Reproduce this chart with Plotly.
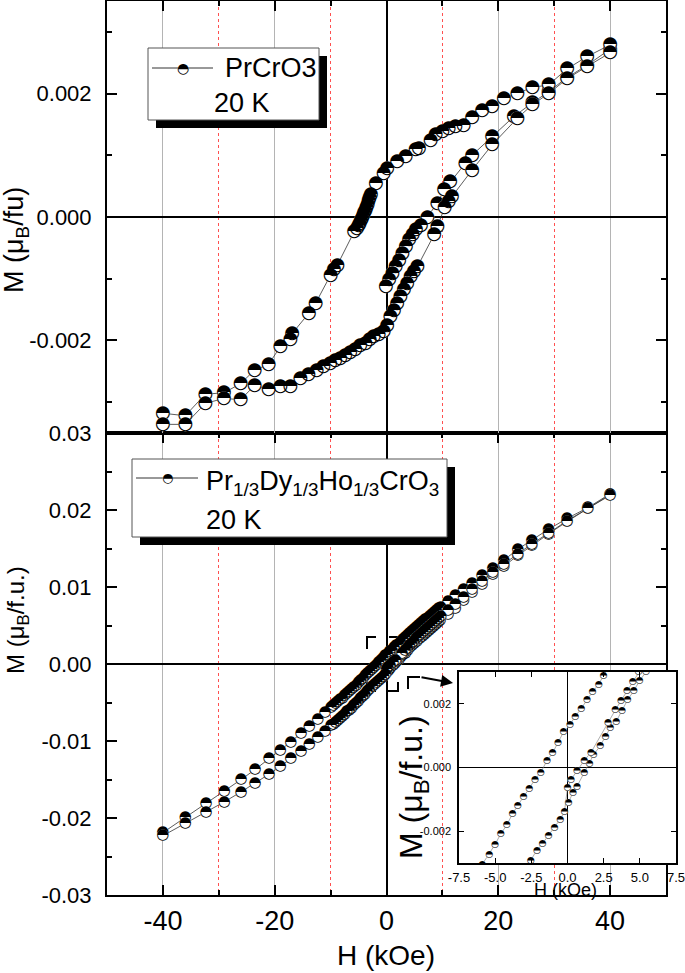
import plotly.graph_objects as go

# ---------------- data: PrCrO3, 20 K (top panel) ----------------
top_desc_H = [40.0, 35.9, 32.3, 29.0, 26.1, 23.4, 21.0, 18.9, 17.1, 15.3,
              13.8, 12.3, 11.1, 10.0, 8.8, 7.9, 5.8, 5.2, 3.4, 1.9,
              0.1, -0.5, -1.9, -2.8, -3.0, -3.2, -3.4, -3.6, -3.8, -4.0,
              -4.2, -4.4, -4.6, -4.8, -5.0, -5.3, -5.8, -8.8, -9.4, -10.0,
              -12.7, -13.9, -16.9, -17.2, -19.0, -21.1, -23.6, -26.1, -29.1, -32.4,
              -36.0, -40.0]
top_desc_M = [0.00279, 0.00260, 0.00240, 0.00214, 0.00210, 0.00200, 0.00192, 0.00179, 0.00172, 0.00161,
              0.00149, 0.00147, 0.00144, 0.00138, 0.00133, 0.00124, 0.00111, 0.00109, 0.00098, 0.00090,
              0.00079, 0.00071, 0.00055, 0.00036, 0.00031, 0.00026, 0.00021, 0.00016, 0.00011, 0.00007,
              0.00003, -0.00002, -0.00006, -0.00010, -0.00014, -0.00018, -0.00024, -0.00078, -0.00085, -0.00094,
              -0.00140, -0.00156, -0.00189, -0.00199, -0.00210, -0.00239, -0.00248, -0.00270, -0.00285, -0.00287,
              -0.00322, -0.00318]

top_asc_H = [-40.0, -36.0, -32.4, -29.1, -26.1, -23.6, -21.1, -19.0, -17.2, -15.4,
             -14.0, -12.5, -11.3, -10.1, -9.2, -8.3, -7.4, -6.5, -5.6, -4.7,
             -3.8, -3.0, -2.3, -1.4, -0.5, 0.1, 0.7, 1.3, 1.9, 2.5,
             3.1, 3.7, 4.3, 4.9, 5.5, 8.5, 9.1, 10.4, 11.1, 11.7,
             15.3, 18.9, 23.4, 26.1, 29.0, 32.3, 35.9, 40.0]
top_asc_M = [-0.00336, -0.00336, -0.00302, -0.00294, -0.00296, -0.00273, -0.00279, -0.00275, -0.00274, -0.00261,
             -0.00256, -0.00248, -0.00243, -0.00238, -0.00233, -0.00229, -0.00224, -0.00219, -0.00214, -0.00209,
             -0.00205, -0.00199, -0.00194, -0.00190, -0.00186, -0.00175, -0.00162, -0.00151, -0.00140, -0.00129,
             -0.00118, -0.00108, -0.00097, -0.00089, -0.00081, -0.00029, -0.00016, 0.00015, 0.00025, 0.00033,
             0.00076, 0.00117, 0.00160, 0.00182, 0.00200, 0.00224, 0.00244, 0.00266]

top_init_H = [-0.1, 0.45, 1.05, 1.65, 2.25, 2.85, 3.45, 4.05, 4.65, 5.25,
              6.15, 7.3, 9.1, 10.3, 11.4, 14.1, 15.3, 18.9, 22.8, 26.1,
              29.0, 32.3, 35.9, 40.0]
top_init_M = [-0.00113, -0.00102, -0.00091, -0.00080, -0.00070, -0.00059, -0.00048, -0.00037, -0.00029, -0.00021,
              -0.00013, 0.00000, 0.00022, 0.00044, 0.00057, 0.00087, 0.00100, 0.00130, 0.00163, 0.00185,
              0.00203, 0.00226, 0.00246, 0.00272]

# ---------------- data: Pr1/3Dy1/3Ho1/3CrO3, 20 K (bottom panel + inset) ----------------
bot_desc_H = [40, 36, 32.3, 29, 26, 23.5, 21, 19, 17.1, 15.3,
              13.8, 12.3, 11, 9.7, 9.3, 8.9, 8.5, 8.1, 7.7, 7.3,
              6.9, 6.5, 6.1, 5.7, 5.3, 4.9, 4.5, 4.1, 3.7, 3.3,
              2.9, 2.49, 2.15, 1.73, 1.34, 0.95, 0.53, 0.16, -0.28, -0.67,
              -1.04, -1.43, -1.85, -2.26, -2.65, -3.05, -3.44, -3.81, -4.2, -4.62,
              -5.01, -5.42, -5.89, -6.3, -6.7, -7.1, -7.5, -7.9, -8.3, -8.7,
              -9.1, -9.5, -9.9, -11, -12.3, -13.8, -15.3, -17.1, -19, -21,
              -23.5, -26, -29, -32.3, -36, -40]
bot_desc_M = [0.0221, 0.0203, 0.0189, 0.0175, 0.0161, 0.0149, 0.0135, 0.0125, 0.0115, 0.0105,
              0.0097, 0.0089, 0.0082, 0.00743, 0.0072, 0.00696, 0.00672, 0.00648, 0.00624, 0.0060,
              0.00575, 0.0055, 0.00525, 0.0050, 0.00474, 0.00448, 0.00422, 0.00396, 0.0037, 0.00343,
              0.00316, 0.00289, 0.00261, 0.00238, 0.00212, 0.00185, 0.00161, 0.00133, 0.00111, 0.00079,
              0.00045, 0.00021, -0.00016, -0.00037, -0.00067, -0.00092, -0.00121, -0.00146, -0.00181, -0.00209,
              -0.00242, -0.00273, -0.00304, -0.0033, -0.0036, -0.0038, -0.0041, -0.0044, -0.0046, -0.0049,
              -0.0051, -0.0054, -0.0056, -0.0063, -0.0072, -0.0081, -0.0090, -0.0101, -0.0112, -0.0123,
              -0.0137, -0.0150, -0.0165, -0.0181, -0.0199, -0.0219]

bot_asc_H = [-40, -36, -32.3, -29, -26, -23.5, -21, -19, -17.1, -15.3,
             -13.8, -12.3, -11, -9.9, -9.5, -9.1, -8.7, -8.3, -7.9, -7.5,
             -7.1, -6.7, -6.3, -5.9, -5.5, -5.1, -4.7, -4.3, -3.9, -3.5,
             -3.1, -2.54, -2.12, -1.73, -1.32, -0.91, -0.51, -0.21, 0.0, 0.23,
             0.65, 1.15, 1.62, 2.79, 3.3, 3.7, 4.1, 4.5, 4.9, 5.3,
             5.7, 6.1, 6.5, 6.9, 7.3, 7.7, 8.1, 8.5, 8.9, 9.3,
             9.7, 11, 12.3, 13.8, 15.3, 17.1, 19, 21, 23.5, 26,
             29, 32.3, 36, 40]
bot_asc_M = [-0.0223, -0.0207, -0.0193, -0.0179, -0.0166, -0.0155, -0.0143, -0.0133, -0.0123, -0.0113,
             -0.0104, -0.0095, -0.0087, -0.0080, -0.0078, -0.0075, -0.0073, -0.0070, -0.0068, -0.0065,
             -0.0062, -0.0060, -0.0057, -0.0054, -0.0051, -0.0048, -0.0045, -0.0042, -0.0039, -0.0036,
             -0.0033, -0.00292, -0.0026, -0.00239, -0.00213, -0.00188, -0.00163, -0.00139, -0.00063, -0.00039,
             -0.00011, 0.00022, 0.00047, 0.00142, 0.0018, 0.0021, 0.0024, 0.0027, 0.0030, 0.0033,
             0.0036, 0.0038, 0.0041, 0.0044, 0.0046, 0.0049, 0.0052, 0.0054, 0.0057, 0.0059,
             0.0062, 0.0070, 0.0078, 0.0087, 0.0097, 0.0108, 0.0119, 0.0130, 0.0143, 0.0156,
             0.0170, 0.0186, 0.0202, 0.0219]

bot_init_H = [0.07, 0.37, 0.65, 1.15, 1.52, 1.8, 2.26, 2.63, 2.95, 3.37,
              3.76, 4.15, 4.57, 4.98, 5.42, 5.95, 6.4, 6.8, 7.2, 7.6,
              8.0, 8.4, 8.8, 9.2, 9.6, 11, 12.3, 13.8, 15.3, 17.1,
              19, 21, 23.5, 26, 29, 32.3, 36, 40]
bot_init_M = [-0.0011, -0.00079, -0.0006, -0.00018, 0.00012, 0.0004, 0.00068, 0.00098, 0.00124, 0.00145,
              0.00177, 0.00212, 0.0024, 0.00272, 0.0030, 0.00335, 0.0036, 0.0039, 0.0041, 0.0044,
              0.0047, 0.0049, 0.0052, 0.0054, 0.0057, 0.0065, 0.0073, 0.0083, 0.0093, 0.0104,
              0.0116, 0.0127, 0.0141, 0.0154, 0.0169, 0.0185, 0.0202, 0.0220]

# ---------------- ticks / labels ----------------
x_tick_vals = [-40, -20, 0, 20, 40]
x_tick_text = ["-40", "-20", "0", "20", "40"]
x_minor_vals = [-50, -30, -10, 10, 30, 50]
top_y_vals = [-0.002, 0.0, 0.002]
top_y_text = ["-0.002", "0.000", "0.002"]
top_y_minor = [-0.003, -0.001, 0.001, 0.003]
bot_y_vals = [-0.03, -0.02, -0.01, 0.0, 0.01, 0.02, 0.03]
bot_y_text = ["-0.03", "-0.02", "-0.01", "0.00", "0.01", "0.02", "0.03"]
bot_y_minor = [-0.025, -0.015, -0.005, 0.005, 0.015, 0.025]
ins_x_vals = [-7.5, -5.0, -2.5, 0.0, 2.5, 5.0, 7.5]
ins_x_text = ["-7.5", "-5.0", "-2.5", "0.0", "2.5", "5.0", "7.5"]
ins_y_vals = [-0.002, 0.0, 0.002]
ins_y_text = ["-0.002", "0.000", "0.002"]

top_label = "PrCrO3"
bot_label = "Pr<sub>1/3</sub>Dy<sub>1/3</sub>Ho<sub>1/3</sub>CrO<sub>3</sub>"
temp_label = "20 K"

W, H = 685, 973
FONT = "Liberation Sans, Arial, sans-serif"
GLYPH_FONT = "DejaVu Sans"


def px(x):
    return x / W


def py(y):
    return 1 - y / H


fig = go.Figure()


def add_curve(hx, my, xa, ya, gsize, lw, lcolor):
    n = len(hx)
    fig.add_trace(go.Scatter(
        x=hx, y=my, xaxis=xa, yaxis=ya, mode="lines+text",
        text=["\u25CF"] * n, textposition="middle center",
        textfont=dict(family=GLYPH_FONT, size=gsize, color="white"),
        line=dict(color=lcolor, width=lw), hoverinfo="skip", showlegend=False))
    fig.add_trace(go.Scatter(
        x=hx, y=my, xaxis=xa, yaxis=ya, mode="text",
        text=["\u25D3"] * n, textposition="middle center",
        textfont=dict(family=GLYPH_FONT, size=gsize, color="black"),
        hoverinfo="skip", showlegend=False))


# top panel
for hx, my in [(top_init_H, top_init_M), (top_desc_H, top_desc_M), (top_asc_H, top_asc_M)]:
    add_curve(hx, my, "x2", "y2", 18, 0.8, "#333333")
# bottom panel
for hx, my in [(bot_init_H, bot_init_M), (bot_desc_H, bot_desc_M), (bot_asc_H, bot_asc_M)]:
    add_curve(hx, my, "x", "y", 15, 0.8, "#333333")
# inset
for hx, my in [(bot_init_H, bot_init_M), (bot_desc_H, bot_desc_M), (bot_asc_H, bot_asc_M)]:
    add_curve(hx, my, "x3", "y3", 9, 0.6, "#777777")

main_xdom = [107 / W, 666 / W]
frame = dict(showline=True, linecolor="black", linewidth=2, ticks="inside",
             tickcolor="black", tickwidth=2, ticklen=10, zeroline=True,
             zerolinecolor="black", zerolinewidth=2)

fig.update_layout(
    width=W, height=H, margin=dict(l=0, r=0, t=0, b=0),
    paper_bgcolor="white", plot_bgcolor="white", template="none",
    font=dict(family=FONT, color="black"), showlegend=False,
    xaxis=dict(domain=main_xdom, anchor="y", range=[-50, 50], tickmode="array",
               tickvals=x_tick_vals, ticktext=x_tick_text, tickfont=dict(size=27),
               ticklabelstandoff=1, mirror="ticks", showgrid=True,
               gridcolor="#b4b4b4", gridwidth=1,
               minor=dict(tickmode="array", tickvals=x_minor_vals, ticks="inside",
                          ticklen=5, tickwidth=1.5, tickcolor="black", showgrid=True,
                          gridcolor="#ff5050", griddash="dot", gridwidth=1),
               **frame),
    yaxis=dict(domain=[1 - 895 / H, 1 - 433 / H], anchor="x", range=[-0.03, 0.03],
               tickmode="array", tickvals=bot_y_vals, ticktext=bot_y_text,
               tickfont=dict(size=22), ticklabelstandoff=9, mirror="ticks", showgrid=False,
               minor=dict(tickmode="array", tickvals=bot_y_minor, ticks="inside",
                          ticklen=5, tickwidth=1.5, tickcolor="black"),
               **frame),
    xaxis2=dict(domain=main_xdom, anchor="y2", range=[-50, 50], matches="x", side="top",
                tickmode="array", tickvals=x_tick_vals, showticklabels=False, mirror=True,
                showgrid=True, gridcolor="#b4b4b4", gridwidth=1,
                minor=dict(tickmode="array", tickvals=x_minor_vals, ticks="inside",
                           ticklen=5, tickwidth=1.5, tickcolor="black", showgrid=True,
                           gridcolor="#ff5050", griddash="dot", gridwidth=1),
                **frame),
    yaxis2=dict(domain=[1 - 433 / H, 1 - 1 / H], anchor="x2", range=[-0.0035, 0.0035],
                tickmode="array", tickvals=top_y_vals, ticktext=top_y_text,
                tickfont=dict(size=22), ticklabelstandoff=9, mirror="ticks", showgrid=False,
                minor=dict(tickmode="array", tickvals=top_y_minor, ticks="inside",
                           ticklen=5, tickwidth=1.5, tickcolor="black"),
                **frame),
    xaxis3=dict(domain=[459 / W, 676 / W], anchor="y3", range=[-7.5, 7.5],
                tickmode="array", tickvals=ins_x_vals, ticktext=ins_x_text,
                tickfont=dict(size=13), ticklabelstandoff=2, ticklabeloverflow="allow",
                showline=True, linecolor="black",
                linewidth=1.5, ticks="inside", ticklen=5, tickwidth=1, tickcolor="black",
                mirror="ticks", showgrid=False, zeroline=True, zerolinecolor="black",
                zerolinewidth=1.2),
    yaxis3=dict(domain=[1 - 863 / H, 1 - 672 / H], anchor="x3", range=[-0.003, 0.003],
                tickmode="array", tickvals=ins_y_vals, ticktext=ins_y_text,
                tickfont=dict(size=11), ticklabelstandoff=4, showline=True, linecolor="black",
                linewidth=1.5, ticks="inside", ticklen=5, tickwidth=1, tickcolor="black",
                mirror="ticks", showgrid=False, zeroline=True, zerolinecolor="black",
                zerolinewidth=1.2),
)

shapes = []
annotations = []


# ---- legend boxes (shadow + white box) ----
def legend_box(x0, y0, x1, y1, off):
    shapes.append(dict(type="rect", xref="paper", yref="paper", x0=px(x0 + off), x1=px(x1 + off),
                       y0=py(y0 + off), y1=py(y1 + off), fillcolor="black", line=dict(width=0),
                       layer="above"))
    shapes.append(dict(type="rect", xref="paper", yref="paper", x0=px(x0), x1=px(x1),
                       y0=py(y0), y1=py(y1), fillcolor="white",
                       line=dict(color="#555555", width=1), layer="above"))


def legend_sample(x0, x1, y, xm, gsize):
    shapes.append(dict(type="line", xref="paper", yref="paper", x0=px(x0), x1=px(x1),
                       y0=py(y), y1=py(y), line=dict(color="#333333", width=1), layer="above"))
    for g, c in [("\u25CF", "white"), ("\u25D3", "black")]:
        annotations.append(dict(xref="paper", yref="paper", x=px(xm), y=py(y), text=g,
                                showarrow=False, xanchor="center", yanchor="middle",
                                font=dict(family=GLYPH_FONT, size=gsize, color=c)))


legend_box(148, 48, 319, 120, 8)
legend_sample(152, 213, 68, 183, 14)
annotations.append(dict(xref="paper", yref="paper", x=px(223), y=py(68), text=top_label,
                        showarrow=False, xanchor="left", yanchor="middle",
                        font=dict(size=27, family=FONT)))
annotations.append(dict(xref="paper", yref="paper", x=px(242), y=py(103), text=temp_label,
                        showarrow=False, xanchor="center", yanchor="middle",
                        font=dict(size=27, family=FONT)))

legend_box(132, 459, 447, 537, 8)
legend_sample(136, 198, 478, 167, 13)
annotations.append(dict(xref="paper", yref="paper", x=px(204), y=py(483), text=bot_label,
                        showarrow=False, xanchor="left", yanchor="middle",
                        font=dict(size=27, family=FONT)))
annotations.append(dict(xref="paper", yref="paper", x=px(204), y=py(520), text=temp_label,
                        showarrow=False, xanchor="left", yanchor="middle",
                        font=dict(size=27, family=FONT)))

# ---- axis titles ----
annotations.append(dict(xref="paper", yref="paper", x=px(386), y=py(955), text="H (kOe)",
                        showarrow=False, xanchor="center", yanchor="middle",
                        font=dict(size=28, family=FONT)))
annotations.append(dict(xref="paper", yref="paper", x=px(16), y=py(240),
                        text="M (\u03bc<sub>B</sub>/fu)", textangle=-90, showarrow=False,
                        xanchor="center", yanchor="middle", font=dict(size=27, family=FONT)))
annotations.append(dict(xref="paper", yref="paper", x=px(17), y=py(620),
                        text="M (\u03bc<sub>B</sub>/f.u.)", textangle=-90, showarrow=False,
                        xanchor="center", yanchor="middle", font=dict(size=24, family=FONT)))
annotations.append(dict(xref="paper", yref="paper", x=px(413), y=py(787),
                        text="M (\u03bc<sub>B</sub>/f.u.)", textangle=-90, showarrow=False,
                        xanchor="center", yanchor="middle", font=dict(size=32, family=FONT)))
annotations.append(dict(xref="paper", yref="paper", x=px(565), y=py(890), text="H (kOe)",
                        showarrow=False, xanchor="center", yanchor="middle",
                        font=dict(size=18, family=FONT)))


# ---- zoom-region corner brackets and arrow ----
def poly(points, layer="below"):
    d = "M " + " L ".join(f"{px(a):.5f},{py(b):.5f}" for a, b in points)
    shapes.append(dict(type="path", xref="paper", yref="paper", path=d,
                       line=dict(color="black", width=2), layer=layer))


poly([(367, 649), (367, 637), (376, 637)])
poly([(389, 637), (398, 637), (398, 646)])
poly([(386, 691), (398, 691), (398, 682)])
poly([(367, 682), (367, 691), (376, 691)])
poly([(408, 689), (408, 677), (420, 677)], layer="above")
annotations.append(dict(xref="paper", yref="paper", x=px(453), y=py(683), ax=-33, ay=-6,
                        axref="pixel", ayref="pixel", text="", showarrow=True,
                        arrowhead=2, arrowsize=1.2, arrowwidth=2, arrowcolor="black"))

fig.update_layout(shapes=shapes, annotations=annotations)
fig.write_html("out.html", config={"displayModeBar": False},
               post_script="document.body.style.margin='0px';document.body.style.padding='0px';")
